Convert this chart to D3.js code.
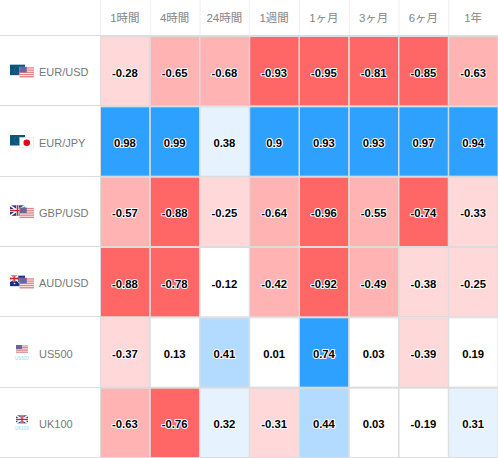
<!DOCTYPE html>
<html><head><meta charset="utf-8">
<script src="https://cdn.jsdelivr.net/npm/d3@7"></script>
<style>
html,body{margin:0;padding:0;background:#fff;overflow:hidden}
svg{display:block}
.hd{font:11.5px "Liberation Sans","Noto Sans CJK JP",sans-serif;fill:#858585;text-anchor:middle}
.lb{font:11px "Liberation Sans",Arial,sans-serif;fill:#777}
.vl{font:bold 11.3px "Liberation Sans",Arial,sans-serif;fill:#000;text-anchor:middle;paint-order:stroke;stroke:#fff;stroke-width:2px;stroke-linejoin:round}
.sub{font:4.5px "Liberation Sans",Arial,sans-serif;fill:#8fd8f5;text-anchor:middle}
</style></head><body>
<svg id="c" width="498" height="458"></svg>
<script>
const periods=["1時間","4時間","24時間","1週間","1ヶ月","3ヶ月","6ヶ月","1年"];
const instruments=["EUR/USD","EUR/JPY","GBP/USD","AUD/USD","US500","UK100"];
const rowEURUSD=[-0.28,-0.65,-0.68,-0.93,-0.95,-0.81,-0.85,-0.63];
const rowEURJPY=[0.98,0.99,0.38,0.9,0.93,0.93,0.97,0.94];
const rowGBPUSD=[-0.57,-0.88,-0.25,-0.64,-0.96,-0.55,-0.74,-0.33];
const rowAUDUSD=[-0.88,-0.78,-0.12,-0.42,-0.92,-0.49,-0.38,-0.25];
const rowUS500=[-0.37,0.13,0.41,0.01,0.74,0.03,-0.39,0.19];
const rowUK100=[-0.63,-0.76,0.32,-0.31,0.44,0.03,-0.19,0.31];
const rows=[rowEURUSD,rowEURJPY,rowGBPUSD,rowAUDUSD,rowUS500,rowUK100];
const thresholds=[-0.7,-0.4,-0.2,0.2,0.4,0.7];
const palette=["#ff6666","#ffb3b3","#ffd9d9","#ffffff","#e6f3ff","#b3dbff","#2ea1ff"];

const W=498,H=458,left=100,top0=36,line="#dcdcdc";
const svg=d3.select("#c");
const x=d3.scaleBand().domain(d3.range(periods.length)).range([left,W]);
const y=d3.scaleBand().domain(d3.range(instruments.length)).range([top0,H]);
const color=d3.scaleThreshold().domain(thresholds).range(palette);

svg.selectAll(".hd").data(periods).join("text").attr("class","hd")
  .attr("x",(d,i)=>x(i)+x.bandwidth()/2).attr("y",22).text(d=>d);
svg.selectAll(".hl").data(periods).join("line")
  .attr("x1",(d,i)=>x(i)+.5).attr("x2",(d,i)=>x(i)+.5).attr("y1",0).attr("y2",top0)
  .attr("stroke","#eeeeee");

svg.selectAll(".rl").data(d3.range(instruments.length+1)).join("line")
  .attr("x1",0).attr("x2",W)
  .attr("y1",d=>Math.round(top0+d*y.bandwidth())-.5).attr("y2",d=>Math.round(top0+d*y.bandwidth())-.5)
  .attr("stroke",line);

const cells=rows.flatMap((r,ri)=>r.map((v,ci)=>({v,ri,ci})));
svg.selectAll(".cell").data(cells).join("rect")
  .attr("x",d=>x(d.ci)+.5).attr("y",d=>y(d.ri)+.5)
  .attr("width",x.bandwidth()-.5).attr("height",y.bandwidth()-1)
  .attr("fill",d=>color(d.v)).attr("stroke",line).attr("stroke-width",1);
svg.selectAll(".vl").data(cells).join("text").attr("class","vl")
  .attr("x",d=>x(d.ci)+x.bandwidth()/2).attr("y",d=>y(d.ri)+y.bandwidth()/2+5.5).text(d=>d.v);

svg.selectAll(".lb").data(instruments).join("text").attr("class","lb")
  .attr("x",39).attr("y",(d,i)=>y(i)+y.bandwidth()/2+5).text(d=>d);

function flagEU(g,w,h){g.append("rect").attr("width",w).attr("height",h).attr("fill","#0e5480");
  g.append("circle").attr("cx",w/2).attr("cy",h/2).attr("r",h*.3).attr("fill","none").attr("stroke","#6f8a3a").attr("stroke-width",.6).attr("stroke-dasharray","1 1");}
function flagUS(g,w,h){g.append("rect").attr("width",w).attr("height",h).attr("fill","#fbeeee");
  for(let i=0;i<5;i++)g.append("rect").attr("y",i*h/5+.4).attr("width",w).attr("height",h/10+.2).attr("fill","#e2858a");
  g.append("rect").attr("width",w*.5).attr("height",h*.5).attr("fill","#5f5f9c").attr("fill-opacity",.92);}
function flagJP(g,w,h){g.append("rect").attr("x",.25).attr("y",.25).attr("width",w-.5).attr("height",h-.5).attr("fill","#fff").attr("stroke","#dddddd").attr("stroke-width",.5);
  g.append("circle").attr("cx",w/2).attr("cy",h/2).attr("r",h*.3).attr("fill","#e8001c");}
function flagUK(g,w,h){g.append("rect").attr("width",w).attr("height",h).attr("fill","#2a3a80");
  g.append("path").attr("d",`M0 0L${w} ${h}M${w} 0L0 ${h}`).attr("stroke","#fff").attr("stroke-width",1.6);
  g.append("path").attr("d",`M${w/2} 0V${h}M0 ${h/2}H${w}`).attr("stroke","#fff").attr("stroke-width",2.6);
  g.append("path").attr("d",`M${w/2} 0V${h}M0 ${h/2}H${w}`).attr("stroke","#e0182a").attr("stroke-width",1.4);}
function flagAU(g,w,h){g.append("rect").attr("width",w).attr("height",h).attr("fill","#1c2f8a");
  const c=g.append("g");flagUK(c,w*.55,h*.55);
  [[.7,.3],[.85,.55],[.6,.65],[.75,.8],[.3,.75]].forEach(p=>g.append("circle").attr("cx",p[0]*w).attr("cy",p[1]*h).attr("r",.8).attr("fill","#fff"));}
const pairFlags=[[flagEU,flagUS],[flagEU,flagJP],[flagUK,flagUS],[flagAU,flagUS]];
pairFlags.forEach((f,i)=>{
  const cy=y(i)+y.bandwidth()/2;
  const a=svg.append("g").attr("transform",`translate(10,${cy-6.5})`);f[0](a,15,10.5);
  const b=svg.append("g").attr("transform",`translate(19.5,${cy-4.3})`);f[1](b,14.5,11);
});
[[4,flagUS,"US500"],[5,flagUK,"UK100"]].forEach(([i,f,t])=>{
  const cy=y(i)+y.bandwidth()/2;
  const a=svg.append("g").attr("transform",`translate(16,${cy-7.5})`);f(a,12,8);
  svg.append("text").attr("class","sub").attr("x",22).attr("y",cy+7.5).text(t);
});
</script></body></html>
